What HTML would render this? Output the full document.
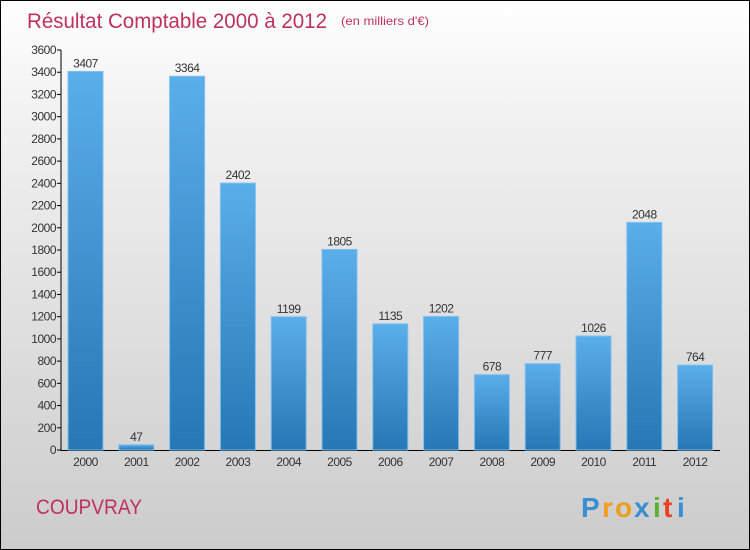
<!DOCTYPE html>
<html><head><meta charset="utf-8"><style>
html,body{margin:0;padding:0}
body{width:750px;height:550px;overflow:hidden;font-family:"Liberation Sans",sans-serif}
#wrap{position:absolute;left:0;top:0;width:748px;height:548px;border:1px solid #000;background:linear-gradient(#ffffff,#f2f2f2 20%,#dadada 70%,#cccccc)}
</style></head><body>
<div id="wrap">
<svg id="c" width="750" height="550" style="position:absolute;left:-1px;top:-1px">
<defs><linearGradient id="g" x1="0" y1="0" x2="0" y2="1"><stop offset="0" stop-color="#5aaeea"/><stop offset="1" stop-color="#2677b5"/></linearGradient></defs>
<text x="27" y="28" font-size="21" fill="#c0305e" textLength="300" lengthAdjust="spacingAndGlyphs">Résultat Comptable 2000 à 2012</text>
<text x="341" y="25" font-size="12" fill="#c0305e" textLength="88" lengthAdjust="spacingAndGlyphs">(en milliers d'€)</text>
<text x="36" y="514" font-size="21" fill="#c0305e" textLength="106" lengthAdjust="spacingAndGlyphs">COUPVRAY</text>
<g font-size="28" font-weight="bold">
<text x="581" y="517" fill="#3a8fd0">P</text><text x="602" y="517" fill="#f39c1f">r</text><text x="615" y="517" fill="#e8a020">o</text><text x="634" y="517" fill="#3a8fd0">x</text><text x="653" y="517" fill="#5cb030">i</text><text x="663" y="517" fill="#e84020">t</text><text x="677" y="517" fill="#3a8fd0">i</text>
</g>
</svg>
</div>
<script>
const years=["2000","2001","2002","2003","2004","2005","2006","2007","2008","2009","2010","2011","2012"];
const values=[3407,47,3364,2402,1199,1805,1135,1202,678,777,1026,2048,764];
const ticks=[0,200,400,600,800,1000,1200,1400,1600,1800,2000,2200,2400,2600,2800,3000,3200,3400,3600];
const svg=document.getElementById('c');const NS='http://www.w3.org/2000/svg';
const y=v=>450-v*400/3600;const x=i=>68+i*50.8;
function mk(t,a,txt){const e=document.createElementNS(NS,t);for(const k in a)e.setAttribute(k,a[k]);if(txt!==undefined)e.textContent=txt;svg.appendChild(e);return e;}
const ax=mk('line',{x1:61,y1:50,x2:61,y2:451,stroke:'#000'});


const bx=mk('line',{x1:61,y1:450.5,x2:720,y2:450.5,stroke:'#000'});


ticks.forEach(t=>{
 const l=mk('line',{x1:57,x2:61,y1:y(t),y2:y(t),stroke:'#000'});
 
 
 const tx=mk('text',{x:56,y:y(t)+4,'font-size':12,'text-anchor':'end',fill:'#333','letter-spacing':'-0.5'},t);
 
 
});
values.forEach((v,i)=>{
 const r=mk('rect',{x:x(i),y:y(v),width:35,height:450-y(v),fill:'url(#g)',stroke:'#7fc0f0','stroke-width':1});
 
 
 const lb=mk('text',{x:x(i)+17.5,y:y(v)-4,'font-size':12,'text-anchor':'middle',fill:'#333','letter-spacing':'-0.5'},v);
 
 
 const xl=mk('text',{x:x(i)+17.5,y:466,'font-size':12,'text-anchor':'middle',fill:'#333','letter-spacing':'-0.5'},years[i]);
 
 
});
</script>
</body></html>
